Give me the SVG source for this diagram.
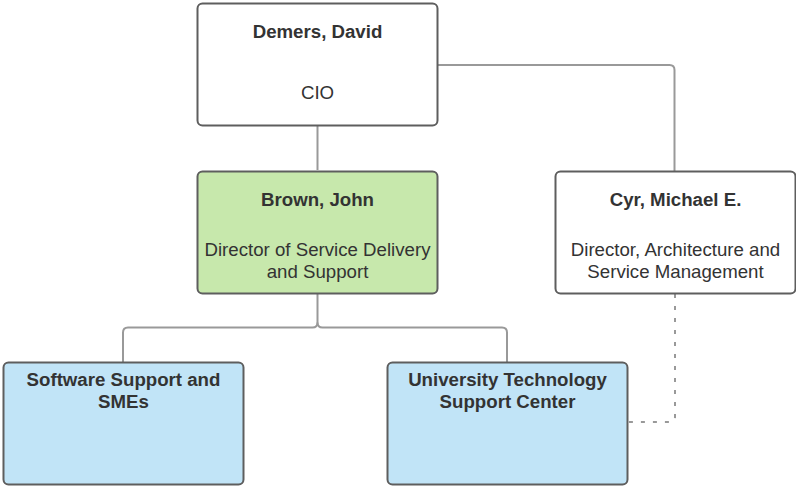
<svg xmlns="http://www.w3.org/2000/svg" width="796" height="486" viewBox="0 0 796 486">
<style>
.box{stroke:#5e5e5e;stroke-width:2;}
.w{fill:#ffffff;}
.g{fill:#c7e8ac;}
.b{fill:#c1e4f7;}
.c{fill:none;stroke:#999999;stroke-width:2;}
.d{stroke-dasharray:4 8;}
text{font-family:"Liberation Sans",Arial,sans-serif;font-size:18.67px;fill:#333333;text-anchor:middle;}
.t{font-weight:bold;}
</style>
<rect width="796" height="486" fill="#ffffff"/>
<g id="connectors">
<path class="c" d="M317.5 126 V170"/>
<path class="c" d="M438 65 H669.5 Q674.5 65 674.5 70 V171"/>
<path class="c" d="M317.5 294 V322.5 Q317.5 327.5 312.5 327.5 H128 Q123 327.5 123 332.5 V362"/>
<path class="c" d="M317.5 322.5 Q317.5 327.5 322.5 327.5 H502 Q507 327.5 507 332.5 V362"/>
<path class="c d" d="M675 294 V417 Q675 422 670 422 H628"/>
</g>
<g id="demers">
<rect class="box w" x="197.5" y="3.5" width="240" height="122" rx="5"/>
<text class="t" x="317.5" y="37.5">Demers, David</text>
<text x="317.5" y="99">CIO</text>
</g>
<g id="brown">
<rect class="box g" x="197.5" y="171.5" width="240" height="122" rx="5"/>
<text class="t" x="317.5" y="205.5">Brown, John</text>
<text x="317.5" y="256">Director of Service Delivery</text>
<text x="317.5" y="278">and Support</text>
</g>
<g id="cyr">
<rect class="box w" x="555.5" y="171.5" width="240" height="122" rx="5"/>
<text class="t" x="675.5" y="205.5">Cyr, Michael E.</text>
<text x="675.5" y="256">Director, Architecture and</text>
<text x="675.5" y="278">Service Management</text>
</g>
<g id="software">
<rect class="box b" x="3.5" y="362.5" width="240" height="122" rx="5"/>
<text class="t" x="123.5" y="386">Software Support and</text>
<text class="t" x="123.5" y="408">SMEs</text>
</g>
<g id="utsc">
<rect class="box b" x="387.5" y="362.5" width="240" height="122" rx="5"/>
<text class="t" x="507.5" y="386">University Technology</text>
<text class="t" x="507.5" y="408">Support Center</text>
</g>
</svg>
